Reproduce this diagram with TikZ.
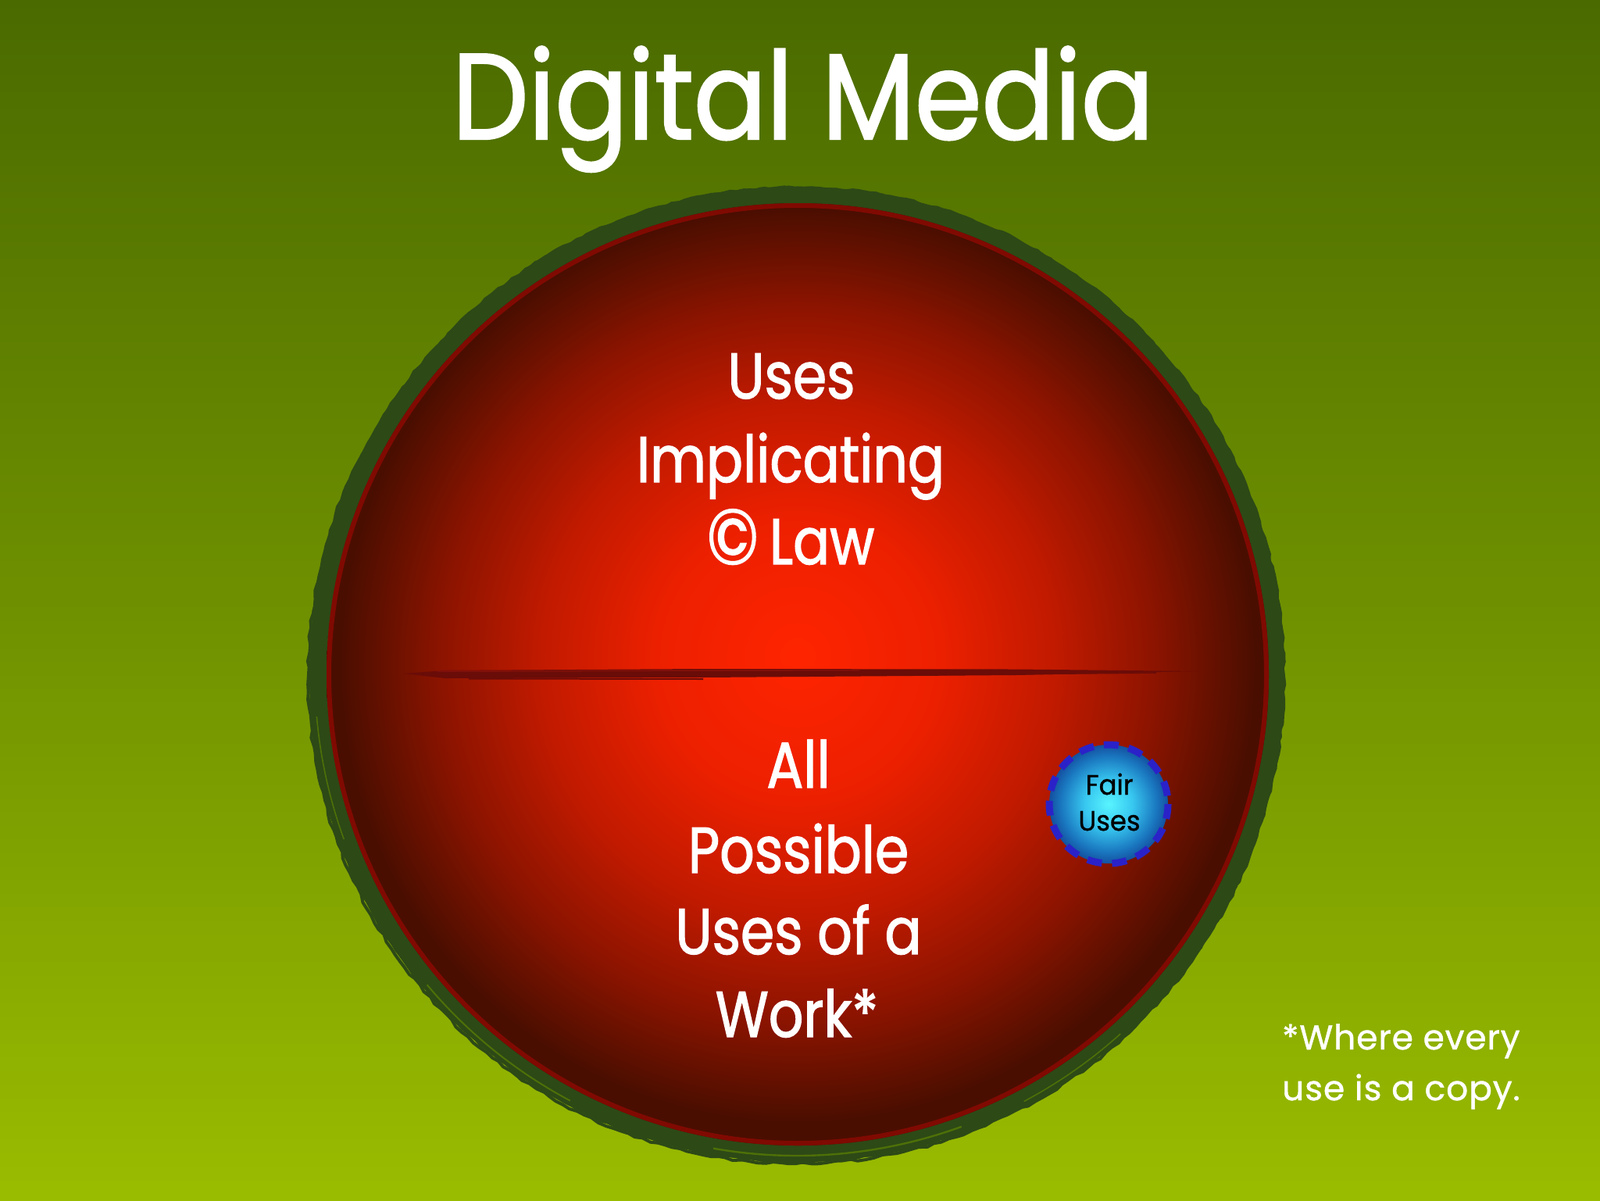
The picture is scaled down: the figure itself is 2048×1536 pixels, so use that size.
\documentclass[tikz,border=0pt]{standalone}
\usepackage{fontspec}
\setmainfont{Poppins}
\newfontfamily\fbig[FakeStretch=0.84,FakeBold=1.5]{Poppins}
\newfontfamily\ftitle[FakeStretch=0.885,FakeBold=1.5]{Poppins}
\newfontfamily\ffair[FakeStretch=0.94,FakeBold=0.8]{Poppins}
\newfontfamily\ffoot[LetterSpace=2,FakeBold=1]{Poppins}
\usetikzlibrary{decorations.pathmorphing}
\definecolor{bgtop}{HTML}{4A6A00}
\definecolor{bgmid}{HTML}{6E9000}
\definecolor{bgbot}{HTML}{9ABC00}
\definecolor{ringcol}{HTML}{2D4916}
\definecolor{streak}{HTML}{4E7008}
\definecolor{rimcol}{HTML}{800A02}
\definecolor{slash}{HTML}{6A0C08}
\definecolor{slashB}{HTML}{80100A}
\definecolor{rA}{HTML}{FF2400}
\definecolor{rB}{HTML}{EC2000}
\definecolor{rC}{HTML}{C01A00}
\definecolor{rD}{HTML}{8E1400}
\definecolor{rE}{HTML}{601000}
\definecolor{rF}{HTML}{4A0E00}
\definecolor{bA}{HTML}{58F4FF}
\definecolor{bB}{HTML}{38C8F0}
\definecolor{bC}{HTML}{1A78C0}
\definecolor{bD}{HTML}{1450A0}
\definecolor{dashcol}{HTML}{2A22C8}
\pgfdeclareradialshading{redball}{\pgfpoint{0bp}{1bp}}{color(0bp)=(rA); color(7.5bp)=(rB); color(13.75bp)=(rC); color(18.75bp)=(rD); color(22.5bp)=(rE); color(24.25bp)=(rF); color(50bp)=(rF)}
\pgfdeclareradialshading{blueball}{\pgfpoint{0bp}{0bp}}{color(0bp)=(bA); color(10bp)=(bB); color(20bp)=(bC); color(25bp)=(bD); color(50bp)=(bD)}
\tikzset{
  bigtext/.style={text=white, font=\fbig\fontsize{41.5}{50}\selectfont, anchor=base},
  titletext/.style={text=white, font=\ftitle\fontsize{78}{90}\selectfont, anchor=base},
  fairtext/.style={text=black, font=\ffair\fontsize{18}{22}\selectfont, anchor=base},
  foottext/.style={text=white, font=\ffoot\fontsize{22}{26}\selectfont, anchor=base west},
  roughA/.style={decorate, decoration={random steps, segment length=5pt, amplitude=0.8pt}},
}
\begin{document}
\begin{tikzpicture}[x=0.5pt,y=-0.5pt]
\useasboundingbox (0,0) rectangle (2048,1536);
\shade[top color=bgtop, bottom color=bgbot, middle color=bgmid] (0,0) rectangle (2048,1536);
% ring
\draw[ringcol, line width=11pt] (1020,863) circle[radius=613];
\draw[ringcol, line width=2.5pt, roughA] (1020,863) circle[radius=622];
\draw[ringcol, line width=2pt, roughA] (1019,865) circle[radius=624];
% brush streaks in the ring
\draw[streak, line width=1.2pt] (1020,863) ++(100:616) arc[start angle=100, end angle=70, radius=616];
\draw[streak, line width=1pt] (1020,863) ++(140:618) arc[start angle=140, end angle=118, radius=618];
\draw[streak, line width=0.8pt] (1020,863) ++(62:619) arc[start angle=62, end angle=48, radius=619];
\draw[streak, line width=0.8pt] (1020,863) ++(175:617) arc[start angle=175, end angle=160, radius=617];
% red disc
\shade[shading=redball] (1021,863) circle[radius=603];
\draw[rimcol, line width=3pt] (1021,863) circle[radius=600];
% slash
\fill[slash] (516,862) -- (570,858) -- (900,856) -- (1300,856.5) -- (1535,859) -- (1300,864) -- (900,867) -- (570,868) -- cycle;
\draw[slashB, line width=1pt] (560,859) -- (1100,857.5);
\draw[slash, line width=1pt] (600,868.5) -- (900,869);
\draw[slash, line width=0.8pt] (1150,864) -- (1480,861);
% fair uses
\shade[shading=blueball] (1419,1029) circle[radius=76];
\draw[dashcol, line width=4.5pt, dash pattern=on 9.5pt off 6.5pt] (1419,1029) circle[radius=76];
% texts
\node[titletext] (title) at (1028,178) {Digital Media};
\node[bigtext] (t1) at (1013,510) {Uses};
\node[bigtext] (t2) at (1012,617) {Implicating};
\node[bigtext] (t3) at (1012,722) {{\fontsize{50}{50}\selectfont ©}\,Law};
\node[bigtext] (b1) at (1022,1008) {All};
\node[bigtext] (b2) at (1022,1117) {Possible};
\node[bigtext] (b3) at (1022,1221) {Uses of a};
\node[bigtext] (b4) at (1020,1327) {Work*};
\node[fairtext] (f1) at (1420,1017) {Fair};
\node[fairtext] (f2) at (1420,1063) {Uses};
\node[foottext] (n1) at (1634,1343) {*Where every};
\node[foottext] (n2) at (1634,1408) {use is a copy.};
\end{tikzpicture}
\end{document}
